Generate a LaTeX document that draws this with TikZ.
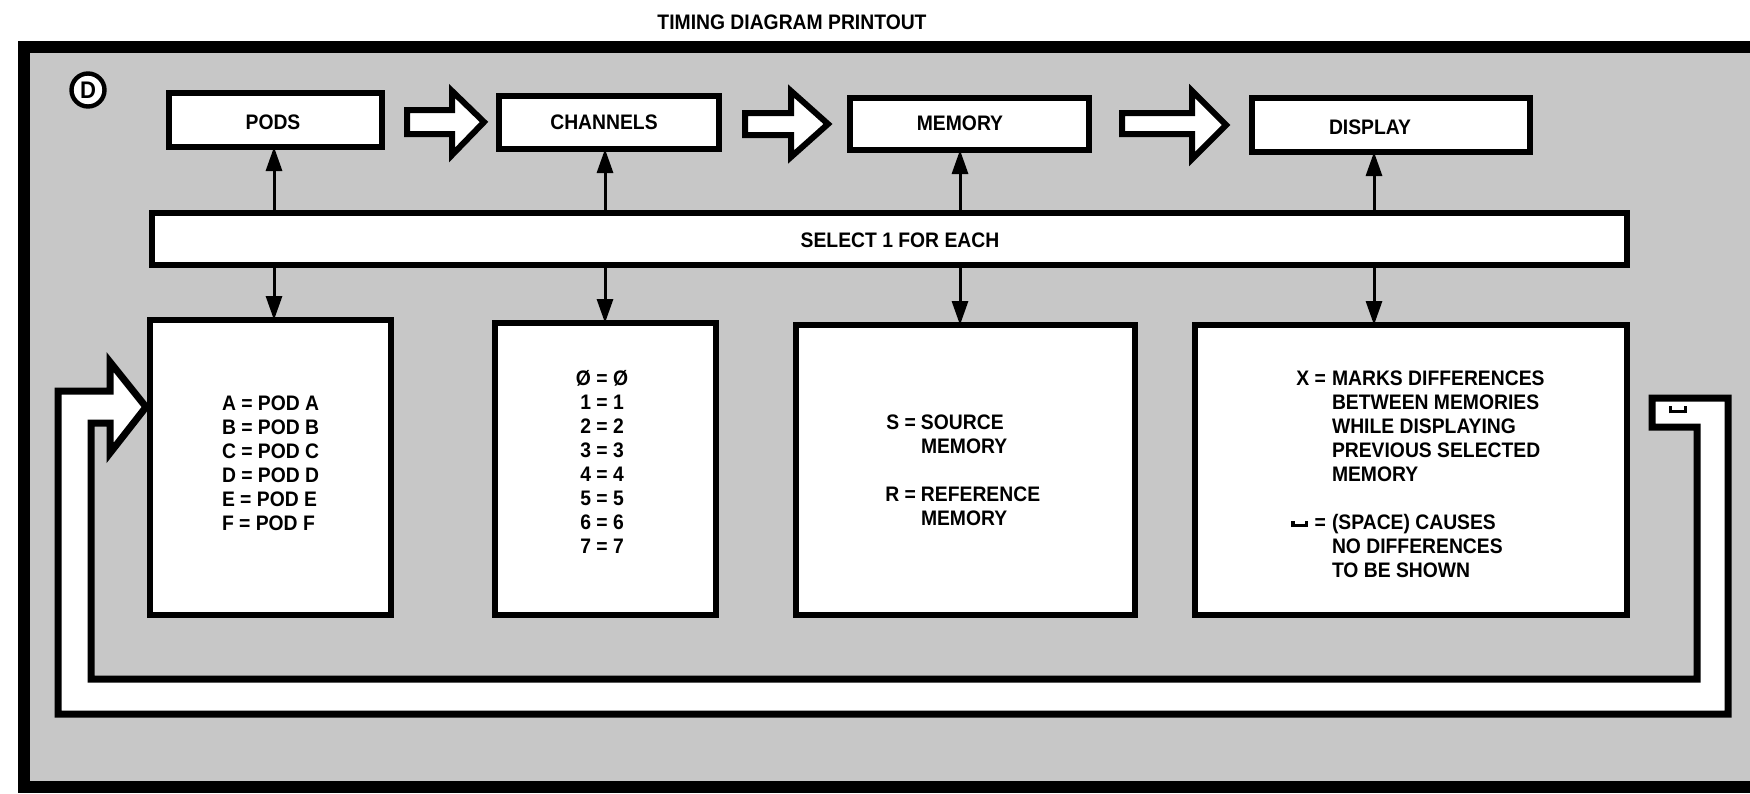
\documentclass[tikz,border=0pt]{standalone}
\usepackage{fontspec}
\setmainfont{Liberation Sans}[FakeStretch=0.92]
\usetikzlibrary{arrows.meta,fit}

\definecolor{screen}{gray}{0.78}
% visible-space mark drawn with rules
\newcommand\vspc{\raisebox{1.2pt}{\rule{1.6pt}{3.2pt}\rule{5pt}{1.6pt}\rule{1.6pt}{3.2pt}}}

\begin{document}
\begin{tikzpicture}[x=0.5pt,y=-0.5pt,
  txt/.style={inner sep=0pt,outer sep=0pt,font=\fontsize{10.5}{12}\selectfont\bfseries},
  frame/.style={draw=black,line width=6pt,fill=screen},
  box/.style={draw=black,line width=3pt,fill=white,inner sep=0pt,outer sep=0pt},
  badge/.style={circle,draw=black,line width=2.2pt,fill=white,inner sep=0pt,minimum size=16.5pt,
    font=\fontsize{12}{12}\selectfont\bfseries},
  blockarrow/.style={draw=black,line width=3pt,fill=white,line join=miter},
  band/.style={draw=black,line width=3.5pt,fill=white,line join=miter},
  vconn/.style={draw=black,line width=1.5pt,-{Triangle[length=12pt,width=8pt]}},
]
\useasboundingbox (0,0) rectangle (1750,793);

% screened panel
\draw[frame] (24,47) rectangle (1800,787);

\node[txt,anchor=base] (title) at (792,29.5) {TIMING DIAGRAM PRINTOUT};
\node[badge] (d) at (88,90) {D};

% feedback band returning to the pod selection
\draw[band] (110,391) -- (58,391) -- (58,714) -- (1728,714) -- (1728,398)
  -- (1652,398) -- (1652,427) -- (1697,427) -- (1697,679) -- (91,679)
  -- (91,423) -- (110,423) -- (110,453) -- (146,407) -- (110,362) -- cycle;
\node[txt] (spc) at (1678,411) {\scalebox{1.15}{\vspc}};

% top row
\node[box, fit={(169,93) (382,147)}] (pods) {};
\node[box, fit={(499,96) (719,149)}] (chan) {};
\node[box, fit={(850,98) (1089,150)}] (mem) {};
\node[box, fit={(1252,98) (1530,152)}] (disp) {};

\node[txt,anchor=base] (podslbl) at (273,129.5) {PODS};
\node[txt,anchor=base] (chanlbl) at (604,129.5) {CHANNELS};
\node[txt,anchor=base] (memlbl) at (960,130.5) {MEMORY};
\node[txt,anchor=base] (displbl) at (1370,134.5) {DISPLAY};

% hollow flow arrows
\draw[blockarrow] (407,110) -- (452,110) -- (452,91) -- (484,122) -- (452,155) -- (452,134) -- (407,134) -- cycle;
\draw[blockarrow] (745,113) -- (791,113) -- (791,91) -- (828,124) -- (791,157) -- (791,135) -- (745,135) -- cycle;
\draw[blockarrow] (1122,113) -- (1192,113) -- (1192,91) -- (1226,125) -- (1192,159) -- (1192,134) -- (1122,134) -- cycle;

% selection bar
\node[box, fit={(152,213) (1627,265)}] (bar) {};
\node[txt,anchor=base] (barlbl) at (900,247.5) {SELECT 1 FOR EACH};

% bottom row
\node[box, fit={(150,320) (391,615)}] (podsl) {};
\node[box, fit={(495,323) (716,615)}] (chanl) {};
\node[box, fit={(796,325) (1135,615)}] (meml) {};
\node[box, fit={(1195,325) (1627,615)}] (displ) {};

% links through the selection bar
\coordinate (xa) at (274,0);
\coordinate (xb) at (605,0);
\coordinate (xc) at (960,0);
\coordinate (xd) at (1374,0);
\draw[vconn] (bar.north -| xa) -- (pods.south -| xa);
\draw[vconn] (bar.north -| xb) -- (chan.south -| xb);
\draw[vconn] (bar.north -| xc) -- (mem.south -| xc);
\draw[vconn] (bar.north -| xd) -- (disp.south -| xd);
\draw[vconn] (bar.south -| xa) -- (podsl.north -| xa);
\draw[vconn] (bar.south -| xb) -- (chanl.north -| xb);
\draw[vconn] (bar.south -| xc) -- (meml.north -| xc);
\draw[vconn] (bar.south -| xd) -- (displ.north -| xd);

% option lists
\node[txt,anchor=base west] (podtxt) at (222,410.5) {\begin{tabular}[t]{@{}l@{}}
A = POD A\\B = POD B\\C = POD C\\D = POD D\\E = POD E\\F = POD F\end{tabular}};

\node[txt,anchor=base] (chantxt) at (602,385.5) {\begin{tabular}[t]{@{}c@{}}
Ø = Ø\\1 = 1\\2 = 2\\3 = 3\\4 = 4\\5 = 5\\6 = 6\\7 = 7\end{tabular}};

\node[txt,anchor=base west] (memtxt) at (882,429.5) {\begin{tabular}[t]{@{}l@{\hspace{2.5pt}}l@{}}
\makebox[17pt][r]{S =} & SOURCE\\ & MEMORY\\[12pt]
\makebox[17pt][r]{R =} & REFERENCE\\ & MEMORY\end{tabular}};

\node[txt,anchor=base west] (disptxt) at (1286,385.5) {\begin{tabular}[t]{@{}l@{\hspace{3pt}}l@{}}
\makebox[20pt][r]{X =} & MARKS DIFFERENCES\\ & BETWEEN MEMORIES\\ & WHILE DISPLAYING\\
 & PREVIOUS SELECTED\\ & MEMORY\\[12pt]
\makebox[20pt][r]{\vspc\hspace{3.5pt}=} & (SPACE) CAUSES\\ & NO DIFFERENCES\\ & TO BE SHOWN\end{tabular}};
\end{tikzpicture}
\end{document}
